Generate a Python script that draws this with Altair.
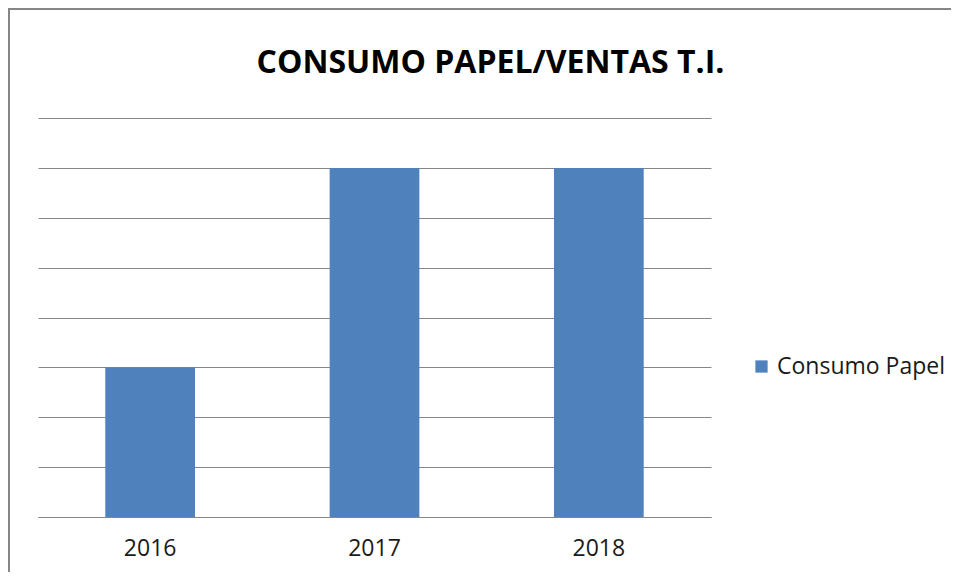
import altair as alt
import pandas as pd

years = ["2016", "2017", "2018"]
values = [3, 7, 7]
series = ["Consumo Papel", "Consumo Papel", "Consumo Papel"]
y_ticks = [0, 1, 2, 3, 4, 5, 6, 7, 8]

df = pd.DataFrame({"year": years, "value": values, "serie": series})
frame_df = pd.DataFrame({"k": [0]})

FONT = "Open Sans"

bars = alt.Chart(df).mark_bar().encode(
    x=alt.X("year:N", title=None, sort=years,
            scale=alt.Scale(paddingInner=0.6, paddingOuter=0.3),
            axis=alt.Axis(labelAngle=0, ticks=False, domain=True, domainColor="#868686",
                          domainWidth=1, labelFontSize=23, labelFont=FONT,
                          labelColor="#1a1a1a", labelPadding=20, grid=False)),
    y=alt.Y("value:Q", title=None, scale=alt.Scale(domain=[0, 8], nice=False),
            axis=alt.Axis(values=y_ticks, labels=False, ticks=False, domain=False,
                          grid=True, gridColor="#868686", gridWidth=1)),
    color=alt.Color("serie:N", title=None,
                    scale=alt.Scale(range=["#4F81BD"]),
                    legend=alt.Legend(orient="none", legendX=712, legendY=237,
                                      symbolType="square", symbolSize=150,
                                      symbolStrokeWidth=0, labelFontSize=23,
                                      labelFont=FONT, labelColor="#1a1a1a",
                                      labelLimit=400, symbolOffset=0, labelOffset=4)),
)

frame_top = alt.Chart(frame_df).mark_rect(fill="#868686", strokeWidth=0).encode(
    x=alt.value(-30), x2=alt.value(913), y=alt.value(-110), y2=alt.value(-108)
)
frame_left = alt.Chart(frame_df).mark_rect(fill="#868686", strokeWidth=0).encode(
    x=alt.value(-30), x2=alt.value(-28), y=alt.value(-110), y2=alt.value(454)
)

chart = alt.layer(frame_top, frame_left, bars).properties(
    width=673, height=399,
    title=alt.TitleParams("CONSUMO PAPEL/VENTAS T.I.", font=FONT, fontSize=32,
                          fontWeight="bold", color="#000000", anchor="middle",
                          frame="group", dx=116, offset=-72),
    autosize=alt.AutoSizeParams(type="none"),
    padding={"left": 30, "top": 110, "right": 240, "bottom": 55},
).configure_view(stroke=None)

chart.save("out.html", embed_options={"renderer": "svg", "actions": False})
